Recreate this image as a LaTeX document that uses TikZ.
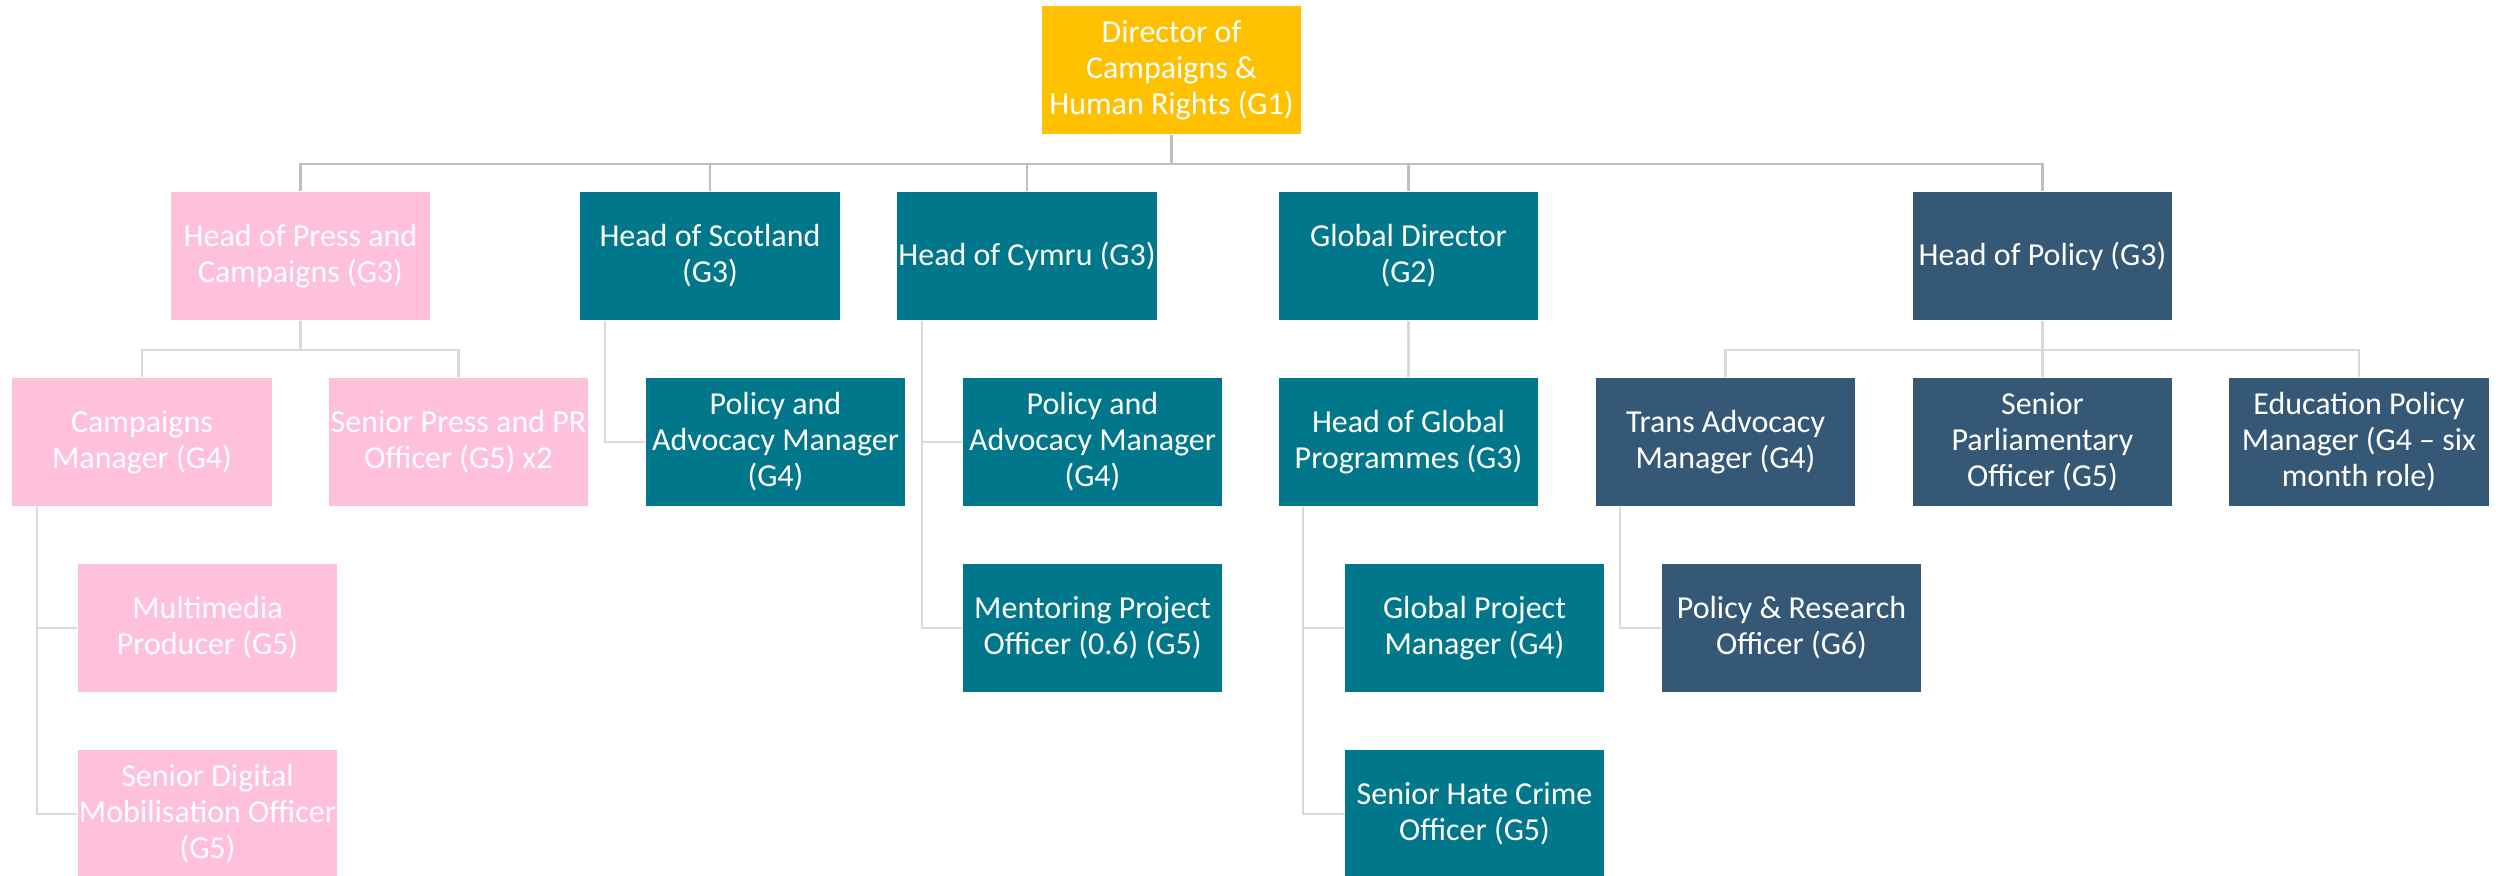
\documentclass[tikz,border=0pt]{standalone}
\usepackage{fontspec}
\setmainfont{Carlito}
\definecolor{gold}{HTML}{FFC000}
\definecolor{rose}{HTML}{FFC0DC}
\definecolor{petrol}{HTML}{00778A}
\definecolor{slate}{HTML}{365877}
\definecolor{linetop}{HTML}{BFBFBF}
\definecolor{linesub}{HTML}{D9D9D9}

\begin{document}
\begin{tikzpicture}[x=0.01cm,y=-0.01cm,
    post/.style={rectangle,minimum width=2.59cm,minimum height=1.28cm,inner sep=0pt,
      text=white,align=center,font=\fontsize{9.1}{10.24}\selectfont},
    goldpost/.style={post,fill=gold},
    rosepost/.style={post,fill=rose},
    petrolpost/.style={post,fill=petrol},
    slatepost/.style={post,fill=slate},
    toplink/.style={draw=linetop,line width=0.7pt},
    sublink/.style={draw=linesub,line width=0.7pt}]
  \useasboundingbox (0,0) rectangle (2496,876);
  % top
  \node[goldpost] (dir) at (1171.5,70) {Director of\\Campaigns \&\\Human Rights (G1)};
  % heads
  \node[rosepost] (press) at (300.5,256) {Head of Press and\\Campaigns (G3)};
  \node[petrolpost] (scot) at (710,256) {Head of Scotland\\(G3)};
  \node[petrolpost] (cymru) at (1027,256) {Head of Cymru (G3)};
  \node[petrolpost] (global) at (1408.5,256) {Global Director\\(G2)};
  \node[slatepost] (policy) at (2042.5,256) {Head of Policy (G3)};
  % second row
  \node[rosepost] (camp) at (142,442) {Campaigns\\Manager (G4)};
  \node[rosepost] (spress) at (458.5,442) {Senior Press and PR\\Officer (G5) x2};
  \node[petrolpost] (scotpa) at (775.5,442) {Policy and\\Advocacy Manager\\(G4)};
  \node[petrolpost] (cympa) at (1092.5,442) {Policy and\\Advocacy Manager\\(G4)};
  \node[petrolpost] (hgp) at (1408.5,442) {Head of Global\\Programmes (G3)};
  \node[slatepost] (trans) at (1725.5,442) {Trans Advocacy\\Manager (G4)};
  \node[slatepost] (parl) at (2042.5,442) {Senior\\Parliamentary\\Officer (G5)};
  \node[slatepost] (edu) at (2359,442) {Education Policy\\Manager (G4 -- six\\month role)};
  % third row
  \node[rosepost] (multi) at (207.5,628) {Multimedia\\Producer (G5)};
  \node[petrolpost] (ment) at (1092.5,628) {Mentoring Project\\Officer (0.6) (G5)};
  \node[petrolpost] (gpm) at (1474.5,628) {Global Project\\Manager (G4)};
  \node[slatepost] (pr) at (1791.5,628) {Policy \& Research\\Officer (G6)};
  % fourth row
  \node[rosepost] (digi) at (207.5,814) {Senior Digital\\Mobilisation Officer\\(G5)};
  \node[petrolpost] (hate) at (1474.5,814) {Senior Hate Crime\\Officer (G5)};

  \foreach \c in {press,scot,cymru,global,policy}
    \draw[toplink] (dir.south) -- ++(0,29) -| (\c.north);
  \foreach \c in {camp,spress}
    \draw[sublink] (press.south) -- ++(0,29) -| (\c.north);
  \foreach \c in {trans,parl,edu}
    \draw[sublink] (policy.south) -- ++(0,29) -| (\c.north);
  \draw[sublink] (global) -- (hgp);
  \draw[sublink] ([xshift=0.25cm]scot.south west) |- (scotpa.west);
  \foreach \c in {cympa,ment}
    \draw[sublink] ([xshift=0.25cm]cymru.south west) |- (\c.west);
  \foreach \c in {multi,digi}
    \draw[sublink] ([xshift=0.25cm]camp.south west) |- (\c.west);
  \foreach \c in {gpm,hate}
    \draw[sublink] ([xshift=0.25cm]hgp.south west) |- (\c.west);
  \draw[sublink] ([xshift=0.25cm]trans.south west) |- (pr.west);
  % \draw[very thin,color=gray] (0,0) grid[step=100] (2496,876);
\end{tikzpicture}
\end{document}
